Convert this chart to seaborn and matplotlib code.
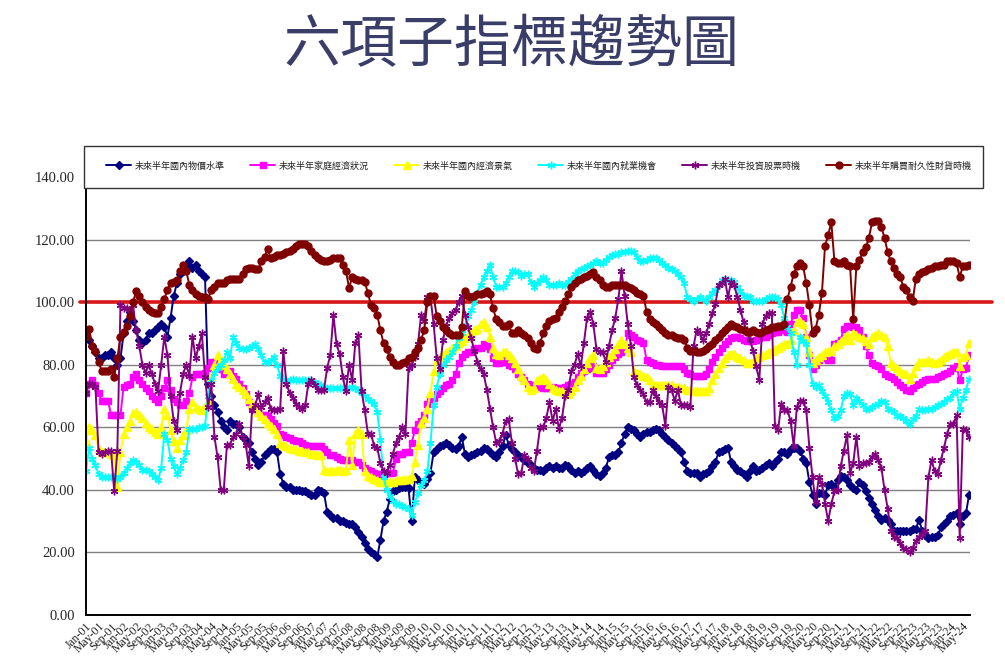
import numpy as np
import pandas as pd
import matplotlib
matplotlib.use('Agg')
import matplotlib.pyplot as plt
from matplotlib.patches import Rectangle
import seaborn as sns

# monthly survey, Jan-01 .. Jul-24
years = list(range(2001, 2025))
month_names = ['Jan', 'Feb', 'Mar', 'Apr', 'May', 'Jun', 'Jul', 'Aug', 'Sep', 'Oct', 'Nov', 'Dec']
months = [f'{m}-{y % 100:02d}' for y in years for m in month_names][:283]

series_names = ['未來半年國內物價水準', '未來半年家庭經濟狀況', '未來半年國內經濟景氣',
                '未來半年國內就業機會', '未來半年投資股票時機', '未來半年購買耐久性財貨時機']

price = [
    90, 88, 86, 84, 82, 82, 83, 83, 84, 82, 80, 82,
    90, 94, 97, 94, 91, 88, 87, 88, 90, 90, 91, 92,
    93, 92, 89, 95, 102, 106, 109, 110, 112, 113, 111, 112,
    110, 109, 108, 74, 70, 67, 65, 62, 60, 59, 62, 61,
    61, 60, 57, 56, 55, 52, 50, 48, 49, 51, 52, 53,
    53, 52, 45, 42, 41, 41, 40, 40, 40, 39.5, 39.5, 39,
    38.5, 38.5, 40, 39.5, 39, 33, 32, 31, 31, 30, 30, 29.5,
    29, 29, 28, 26.5, 25, 23, 21, 20, 19.5, 18.5, 24, 30,
    33, 37, 39.5, 40, 40.5, 41, 41, 40.5, 30, 44, 43, 42.5,
    42, 43.5, 45.5, 52, 53, 54, 54.5, 55, 54.5, 53.5, 53, 54,
    57, 51.5, 50.5, 51, 51.5, 52, 52.5, 53.5, 53, 52, 51, 50.5,
    52, 54, 57.5, 54.5, 53, 52, 51, 50.5, 49.5, 48.5, 48, 47,
    46.5, 46.5, 46, 47, 47.5, 47, 47.5, 47, 47, 48, 47.5, 46.5,
    45.5, 46, 45.5, 46, 47, 47.5, 46.5, 45, 44.5, 45.5, 47, 50.5,
    51, 51, 52, 55, 58, 60, 59.5, 59, 58, 57, 58, 58.5,
    58.5, 59, 59.5, 59, 58, 57, 56, 55, 54, 53, 52, 49,
    46, 45.5, 45.5, 45.5, 44, 45, 45.5, 46, 47.5, 49, 52, 52.5,
    53, 53.5, 49, 47.5, 46.5, 46, 45, 44, 46, 47.5, 46, 46.5,
    47, 48, 48.5, 47.5, 49, 50, 52, 52, 51.5, 53, 53.5, 53.5,
    52.5, 50, 48.5, 42.5, 38.5, 35.5, 39, 39, 38.5, 41.5, 42, 41,
    43, 44.5, 44, 43, 41.5, 40.5, 40, 42.5, 41.5, 39.5, 37.5, 35.5,
    33.5, 31.5, 30.5, 31, 30.5, 29, 27, 27, 27, 27, 27, 27,
    27.5, 27.5, 30.5, 27, 25.5, 24.5, 25, 25, 25.5, 28, 29, 30,
    31.5, 32, 32.5, 29, 31.5, 32.5, 38.5,
]

household = [
    71, 74, 75, 73.5, 71, 68.5, 68.5, 68.5, 64, 64, 64, 64,
    73, 73.5, 74, 76, 77, 75, 74, 72.5, 71.5, 70, 69, 68,
    70, 72.5, 75, 72, 69, 68, 67, 67, 68.5, 71, 76, 77,
    77, 77, 77.5, 79, 81, 81, 80, 78.5, 77, 77.5, 78, 76.5,
    75.5, 74, 72.5, 70.5, 68, 66.5, 66, 65, 64, 64, 63.5, 62.5,
    61.5, 60.5, 58, 57.5, 57, 56.5, 56, 55.5, 55.5, 55, 54.5, 54,
    54, 54, 54, 54, 53, 52, 51, 51, 50.5, 50, 49.5, 49.5,
    49.5, 49.5, 49, 49, 48, 47, 46.5, 46, 45.5, 45, 45, 44.5,
    45.5, 45.5, 45.5, 50, 51.5, 51.5, 52, 52, 55, 59, 61, 62,
    64, 67.5, 68.5, 69.5, 70.5, 71.5, 72.5, 73.5, 74, 75, 77, 80.5,
    82.5, 83.5, 84, 84, 85, 85.5, 85.5, 86.5, 86, 85, 82, 80.5,
    80.5, 81, 81.5, 80, 79.5, 78.5, 77, 76, 75, 74, 73.5, 73,
    73.5, 73, 72.5, 72.5, 72.5, 73, 72.5, 72.5, 72.5, 73, 73.5, 74,
    74.5, 76, 77.5, 78, 78.5, 79, 79.5, 77.5, 77.5, 77.5, 78.5, 80,
    81.5, 82.5, 83.5, 84, 85, 90, 89.5, 89, 88, 87.5, 87, 81.5,
    81, 80.5, 80, 80, 79.5, 79.5, 79.5, 79.5, 79.5, 79.5, 79.5, 78.5,
    77.5, 77, 76.5, 76.5, 76.5, 76.5, 77, 78.5, 81, 82.5, 84, 85.5,
    86.5, 87.5, 88.5, 89, 89, 88.5, 88, 87.5, 87.5, 87.5, 88, 88.5,
    89, 89, 89.5, 90, 90.5, 90.5, 91, 91, 90.5, 93, 96, 97.5,
    97.5, 95, 89, 83, 78.5, 80, 81.5, 82.5, 82, 81.5, 81.5, 86.5,
    87, 88, 91.5, 92.5, 92.5, 92, 92, 91, 89, 86, 83, 80.5,
    80, 79.5, 78.5, 77, 76.5, 76, 75.5, 74.5, 73.5, 73, 72, 71.5,
    72.5, 73.5, 74, 74.5, 75, 75.5, 75.5, 75.5, 76, 76.5, 77, 77.5,
    78, 79, 79.5, 75, 78.5, 79, 83,
]

economy = [
    55.5, 60, 59, 57.5, 53, 52, 52, 52, 51.5, 51, 41, 52,
    58, 60, 62, 64.5, 65, 64, 63, 61.5, 60, 59.5, 58.5, 58,
    60, 66, 64, 59, 55.5, 53.5, 56, 57.5, 59, 66, 68, 66.5,
    66, 65.5, 66.5, 68, 76, 80, 83, 81.5, 80, 78.5, 77, 75.5,
    74, 73, 72, 70.5, 69, 67.5, 66.5, 65, 63.5, 62.5, 61.5, 60.5,
    59.5, 58, 55, 54.5, 54, 53.5, 53, 53, 52.5, 52.5, 52, 52,
    51.5, 51.5, 51, 51, 46.5, 46, 46, 46, 46.5, 46.5, 46, 46.5,
    56, 48, 58, 59, 58, 46, 44.5, 44, 43.5, 43, 42.5, 42.5,
    42.5, 42.5, 42.5, 43, 43, 43, 43.5, 43.5, 44.5, 49, 54.5, 61.5,
    63, 66, 71, 78, 81.5, 82.5, 83, 84, 84.5, 85.5, 86, 87,
    87.5, 88.5, 89.5, 90, 91, 91.5, 93, 93.5, 92, 89, 85.5, 83.5,
    83, 84, 84, 83, 82, 80.5, 78.5, 76.5, 75, 73, 72, 72.5,
    75, 75.5, 76, 75, 74, 72.5, 72, 71.5, 71.5, 71, 70.5, 71.5,
    73, 75, 76.5, 78.5, 80.5, 82, 83, 79, 78.5, 79.5, 81, 82.5,
    83.5, 85, 86.5, 88, 86.5, 85.5, 84, 78, 77.5, 77, 76.5, 76,
    75, 73.5, 73.5, 73.5, 73.5, 73.5, 73.5, 73.5, 73, 73, 72.5, 72.5,
    72, 72, 71.5, 71.5, 71.5, 71.5, 71.5, 72.5, 75, 77, 79, 80.5,
    82, 83, 83.5, 83.5, 82.5, 82, 81.5, 80.5, 80.5, 81, 82, 82.5,
    83, 83.5, 84, 84.5, 85, 85.5, 86, 86.5, 86.5, 88, 91, 93.5,
    94, 93, 89, 84, 80.5, 81.5, 82.5, 83, 84, 84.5, 84.5, 86,
    86.5, 87.5, 88.5, 89.5, 88, 90, 89.5, 89, 88.5, 87.5, 86.5, 89,
    89.5, 90, 89.5, 89, 86, 80.5, 79.5, 79, 78, 77.5, 77, 75.5,
    77.5, 79.5, 81, 81, 81, 81.5, 81, 80.5, 81, 81.5, 82.5, 83,
    83.5, 84, 84, 79.5, 82.5, 83, 87,
]

jobs = [
    46, 53.5, 50, 48, 45, 44, 44, 44, 44, 44, 43.5, 44,
    45.5, 47, 48.5, 49.5, 49, 48, 46.5, 46.5, 46, 45, 44, 43,
    47, 58, 56, 50, 47.5, 45, 47, 49.5, 52, 59.5, 59.5, 59.5,
    60, 60, 60.5, 70, 75, 77.5, 79, 80, 81.5, 84, 82, 89,
    87, 85.5, 85, 85, 85.5, 86, 86.5, 85, 83, 81, 81, 81.5,
    82.5, 80, 76.5, 75.5, 75, 75, 75.5, 75, 75, 75, 75, 75,
    74.5, 74.5, 74, 73.5, 73, 72.5, 72.5, 72.5, 72.5, 72.5, 72.5, 72.5,
    72.5, 73, 72.5, 72, 71, 70, 69, 68.5, 67.5, 65, 56, 44,
    40, 38, 36.5, 35.5, 35.5, 35, 34.5, 34, 32, 36, 39, 41.5,
    43, 46, 55, 67, 73, 77, 80, 81.5, 82.5, 84, 86, 88.5,
    90, 92.5, 95.5, 97.5, 100, 103, 105.5, 108, 110, 112, 108, 105,
    105, 105, 106, 108, 110, 110, 109.5, 108.5, 109, 109, 106.5, 105,
    106, 107, 108, 107, 105.5, 105.5, 105.5, 106, 105.5, 105.5, 106.5, 107.5,
    109, 110, 110.5, 111, 111.5, 112, 112.5, 113, 112.5, 112.5, 113.5, 114.5,
    115, 115.5, 115.5, 116, 116, 116.5, 116.5, 116, 114.5, 113, 113, 113.5,
    114, 114, 114, 113.5, 112.5, 112, 111, 110.5, 110, 109, 108, 106,
    101.5, 101, 100.5, 101, 101.5, 101, 100.5, 101.5, 103, 104, 105.5, 107,
    107, 107, 107, 106.5, 105, 103.5, 102, 102, 101.5, 100.5, 100.5, 100.5,
    100.5, 101, 101.5, 101.5, 101.5, 101, 99, 95, 92, 90, 84, 80,
    89, 87.5, 86.5, 80, 74, 73, 73.5, 71.5, 70, 68, 65.5, 63,
    63.5, 65.5, 70, 71, 70.5, 67, 69.5, 68.5, 67, 66, 66, 66.5,
    67, 67.5, 68.5, 68, 66, 65.5, 65, 63.5, 63.5, 63, 62, 61,
    62.5, 63.5, 66, 65.5, 65.5, 66, 66, 66.5, 67, 67.5, 68, 69,
    69.5, 71, 71.5, 66, 69.5, 72, 75.5,
]

stocks = [
    71, 74, 74, 73, 52, 51.5, 52, 52.5, 52.5, 39.5, 52.5, 99,
    98, 98, 97.5, 99, 91, 86, 80, 77.5, 80, 77, 74, 71.5,
    80, 89, 83, 70, 62, 59, 71, 77, 80, 76.5, 89, 82,
    86, 90, 76, 66.5, 74, 57, 50.5, 40, 40, 54.5, 54.5, 57,
    58, 61, 57, 54.5, 47.5, 65.5, 67, 70.5, 66.5, 68, 69.5, 66,
    65.5, 65.5, 66, 84.5, 74, 71, 69.5, 67.5, 66.5, 66, 67, 74,
    75, 73.5, 72, 72, 72, 79, 83, 96, 86.5, 83.5, 76, 71.5,
    80, 75, 87, 89.5, 71.5, 65.5, 58, 58, 54, 53.5, 48.5, 46,
    45.5, 48, 51.5, 55, 57, 60, 58, 79, 80, 82.5, 86.5, 96,
    94, 101.5, 101.5, 93, 82, 78.5, 88, 92.5, 95, 96.5, 97.5, 100,
    102, 96, 92, 88.5, 84.5, 81, 78.5, 77, 72, 66, 60, 55,
    55.5, 58, 62, 62.5, 55, 50, 45, 45.5, 51, 50, 47, 46,
    52.5, 60, 60, 63, 68, 62, 66, 59.5, 63, 70, 72, 78,
    80, 83.5, 79.5, 87, 95, 97, 93, 85, 84, 84, 81, 86,
    91, 95, 101, 110, 102, 93, 86, 76, 73.5, 72, 70.5, 68,
    68, 72, 70, 68, 67, 60.5, 73, 72, 68.5, 72, 67, 67,
    67, 66.5, 86, 91, 90, 88, 90, 93, 96.5, 99.5, 105.5, 106,
    107.5, 101.5, 106.5, 105.5, 101.5, 97.5, 93.5, 91, 88, 84.5, 79.5, 75,
    93, 95.5, 96.5, 96.5, 60.5, 59, 67.5, 65.5, 65.5, 62, 54, 66.5,
    68.5, 68.5, 65.5, 53.5, 44, 36, 44, 42, 35.5, 30, 35.5, 39.5,
    40, 47.5, 52.5, 57.5, 45.5, 48.5, 57, 47.5, 48.5, 48.5, 49, 50.5,
    51.5, 49.5, 47, 40, 34, 27, 25, 24.5, 23, 21.5, 21, 20,
    21.5, 23.5, 25, 26, 27, 44, 49.5, 46, 45, 49.5, 53.5, 58,
    61, 61, 64, 24.5, 59.5, 59, 57,
]

durables = [
    89, 91.5, 86, 84.5, 81, 78, 78, 78, 78.5, 76, 82, 89,
    90.5, 92.5, 95.5, 100, 103.5, 102, 100, 98.5, 97.5, 97, 96.5, 96.5,
    98.5, 101, 104, 106, 106.5, 107, 110, 112, 110, 105.5, 104, 102.5,
    102, 101.5, 101.5, 101, 104, 105, 106, 106, 106, 107, 107.5, 107.5,
    107.5, 107.5, 109, 110.5, 111, 111, 110.5, 110.5, 113, 114.5, 117, 114,
    114.5, 115, 115, 115.5, 116, 116.5, 117, 118, 118.5, 118.5, 118.5, 118,
    116.5, 115, 114, 113.5, 113, 113, 113.5, 114, 114, 114, 112, 110,
    104.5, 108, 107.5, 107, 107, 106.5, 103, 99, 98, 96, 91, 87,
    85, 82.5, 81, 80, 80, 80.5, 81, 82, 82.5, 84, 85.5, 88,
    91, 100, 102, 102, 95.5, 94, 92, 91, 90, 89.5, 89.5, 89.5,
    92, 103.5, 102, 101.5, 102, 102.5, 102.5, 103, 103.5, 102.5, 98, 94.5,
    93.5, 92.5, 92.5, 93, 90, 90, 91, 90, 89.5, 88.5, 87, 85.5,
    85, 87, 90, 92.5, 94, 94.5, 95, 97, 98.5, 100.5, 102.5, 105,
    106, 107, 107.5, 108, 108.5, 109, 109.5, 108, 107, 105.5, 105, 105,
    105.5, 105.5, 105.5, 105.5, 105.5, 105, 104.5, 104, 103, 102.5, 102, 97,
    94.5, 93.5, 93, 92, 91, 90, 89.5, 89.5, 89, 88.5, 88.5, 88,
    85.5, 84.5, 84.5, 84, 84, 84.5, 85, 86, 86.5, 88, 89, 90,
    91, 92, 93, 92.5, 92, 91.5, 91, 90.5, 90.5, 91, 90.5, 90,
    90.5, 91, 91.5, 92, 92, 92.5, 92.5, 93, 101, 105, 109, 111.5,
    112.5, 111.5, 106, 99, 90, 91.5, 96, 103, 118, 121.5, 125.5, 113,
    112.5, 112.5, 113, 112, 111.5, 94.5, 111.5, 113.5, 116, 117.5, 120.5, 125.5,
    126, 126, 124, 120.5, 116, 113, 111, 109, 108, 105, 104, 101.5,
    100.5, 107.5, 109, 109.5, 110, 110.5, 111, 111.5, 111.5, 112, 112, 113,
    113, 113, 112.5, 108, 111.5, 111.5, 112,
]

colors = ['#000080', '#ff00ff', '#ffff00', '#00ffff', '#800080', '#800000']
markers = ['D', 's', '^', (6, 2, 0), (6, 2, 0), 'o']
msizes = [4, 5, 5.5, 5.5, 5.5, 5]

df = pd.DataFrame({'month': np.arange(len(months))})
for name, vals in zip(series_names, [price, household, economy, jobs, stocks, durables]):
    df[name] = vals

sns.set_style('white')
plt.rcParams['font.family'] = ['Liberation Serif', 'DejaVu Serif']

fig, ax = plt.subplots(figsize=(10.05, 6.69), dpi=100)
fig.subplots_adjust(left=0.0856, right=0.9652, bottom=0.0807, top=0.7354)

ax.axhline(100, xmin=-0.007, xmax=1.025, color='#d81818', lw=2.6, zorder=1.5, clip_on=False)

for name, c, m, ms in zip(series_names, colors, markers, msizes):
    sns.lineplot(data=df, x='month', y=name, ax=ax, color=c, lw=1.4, marker=m,
                 markersize=ms, markeredgecolor=c, markerfacecolor=c, markeredgewidth=1.0,
                 label=name, legend=False)

ax.set_xlim(0, 282.3)
ax.set_ylim(0, 140)
ax.set_yticks(np.arange(0, 141, 20))
ax.set_yticklabels([f'{v:.2f}' for v in np.arange(0, 141, 20)], fontsize=10.5)
tick_pos = list(range(0, len(months), 4))
ax.set_xticks(tick_pos)
ax.set_xticklabels([months[i] for i in tick_pos], rotation=45, ha='right', va='top',
                   rotation_mode='anchor', fontsize=8.5)
ax.tick_params(axis='x', direction='in', length=3, color='#888888', pad=4)
ax.tick_params(axis='y', length=0, pad=8)
ax.set_xlabel('')
ax.set_ylabel('')
ax.yaxis.grid(True, color='#808080', lw=1)
ax.xaxis.grid(False)
ax.set_axisbelow(True)
for side in ['top', 'right']:
    ax.spines[side].set_visible(False)
for side in ['left', 'bottom']:
    ax.spines[side].set_color('black')
    ax.spines[side].set_linewidth(1.4)

# legend box (drawn separately so the entries can sit inside with Excel-like padding)
W, H = 1005, 669
box = Rectangle((84 / W, 1 - 188 / H), (983 - 84) / W, (188 - 146) / H, transform=fig.transFigure,
                facecolor='white', edgecolor='#333333', lw=1.0, zorder=9)
fig.patches.append(box)

handles, labels = ax.get_legend_handles_labels()
leg = fig.legend(handles, labels, loc='center', ncol=6, mode='expand',
                 bbox_to_anchor=(106 / W, 1 - 176 / H, (972 - 106) / W, 20 / H),
                 prop={'family': ['Noto Sans CJK TC', 'DejaVu Sans'], 'size': 6.5},
                 frameon=False, handlelength=2.8, handletextpad=0.4,
                 borderaxespad=0, borderpad=0)
leg.set_zorder(10)
for t in leg.get_texts():
    t.set_color('#222222')

fig.text(0.509, 1 - 46 / 669, '六項子指標趨勢圖', ha='center', va='center', fontsize=41,
         color='#3a3d68', family=['Noto Sans CJK TC', 'DejaVu Sans'], fontweight=500)

fig.savefig('out.png', dpi=100, facecolor='white')
